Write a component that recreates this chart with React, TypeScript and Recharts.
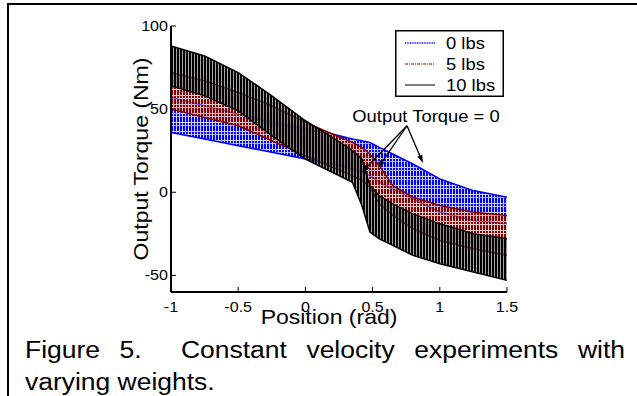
import { ComposedChart, Area, XAxis, YAxis, ReferenceLine, ReferenceDot, Legend, Label } from 'recharts';

const POSITION = [-1, -0.75, -0.5, -0.25, 0, 0.2, 0.35, 0.42, 0.48, 0.55, 0.65, 0.8, 1, 1.25, 1.5];

// 0 lbs (blue) upper / lower edge of the oscillation, Nm
const LBS0_HI = [57, 52, 47, 42, 38, 35, 32, 31, 30, 27, 23, 17, 8, 1, -3];
const LBS0_LO = [36, 32, 28, 24, 20, 17, 14, 12, 10, 6, 2, -4, -12, -17, -19];

// 5 lbs (dark red)
const LBS5_HI = [72, 67, 60, 52, 42, 35, 30, 27, 23, 16, 4, -3, -8, -12, -14];
const LBS5_LO = [50, 45, 40, 31, 22, 15, 10, 7, 3, -7, -14, -22, -29, -34, -38];

// 10 lbs (black)
const LBS10_HI = [88, 82, 72, 58, 43, 33, 25, 20, 4, -2, -7, -13, -19, -25, -28];
const LBS10_LO = [64, 58, 49, 34, 20, 12, 6, -8, -24, -28, -32, -38, -43, -48, -53];

const X_TICKS = [-1, -0.5, 0, 0.5, 1, 1.5];
const Y_TICKS = [-50, 0, 50, 100];
const SERIES = ['0 lbs', '5 lbs', '10 lbs'];

// annotation arrows: common tail, three tips
const ARROW_TAIL = { x: 0.756, y: 40 };
const ARROW_TIPS = [
  { x: 0.42, y: 12 },
  { x: 0.54, y: 14.6 },
  { x: 0.875, y: 17.6 },
];
const NOTE_AT = { x: 0.897, y: 45.9 };

const FONT = '"Liberation Sans", Arial, Helvetica, sans-serif';
const STRETCH = 1.15;

const data = POSITION.map((x, i) => ({
  x,
  lbs0: [LBS0_LO[i], LBS0_HI[i]],
  lbs5: [LBS5_LO[i], LBS5_HI[i]],
  lbs10: [LBS10_LO[i], LBS10_HI[i]],
}));

function BottomTick({ x, y, payload }: any) {
  return (
    <g>
      <line x1={x} y1={y} x2={x} y2={y - 5} stroke="#000" />
      <text transform={`translate(${x},${y + 20}) scale(${STRETCH},1)`} textAnchor="middle" fontSize={14} fontFamily={FONT} fill="#000">
        {String(payload.value)}
      </text>
    </g>
  );
}

function LeftTick({ x, y, payload }: any) {
  return (
    <g>
      <line x1={x} y1={y} x2={x + 5} y2={y} stroke="#000" />
      <text transform={`translate(${x - 3},${y + 5}) scale(${STRETCH},1)`} textAnchor="end" fontSize={14} fontFamily={FONT} fill="#000">
        {String(payload.value)}
      </text>
    </g>
  );
}

function TopTick({ x, y }: any) {
  return <line x1={x} y1={y} x2={x} y2={y + 5} stroke="#000" />;
}

function RightTick({ x, y }: any) {
  return <line x1={x} y1={y} x2={x - 5} y2={y} stroke="#000" />;
}

function Arrow({ x1, y1, x2, y2 }: any) {
  const a = Math.atan2(y2 - y1, x2 - x1);
  const len = 8;
  const w = 2.6;
  const bx = x2 - len * Math.cos(a);
  const by = y2 - len * Math.sin(a);
  const nx = -Math.sin(a);
  const ny = Math.cos(a);
  return (
    <g>
      <line x1={x1} y1={y1} x2={bx} y2={by} stroke="#000" strokeWidth={1.3} />
      <polygon points={`${x2},${y2} ${bx + w * nx},${by + w * ny} ${bx - w * nx},${by - w * ny}`} fill="#000" />
    </g>
  );
}

function Note({ cx, cy }: any) {
  return (
    <text transform={`translate(${cx},${cy + 6}) scale(${STRETCH},1)`} textAnchor="middle" fontSize={16} fontFamily={FONT} fill="#000">
      Output Torque = 0
    </text>
  );
}

function LegendBox() {
  const styles = [
    { stroke: '#4848ff', dash: '1 0.7', w: 2 },
    { stroke: '#800000', dash: '3 1 1 1', w: 1.2 },
    { stroke: '#000', dash: undefined, w: 1 },
  ];
  return (
    <svg width={109} height={67} style={{ display: 'block' }}>
      <rect x={0.75} y={0.75} width={107.5} height={65.5} fill="#fff" stroke="#000" strokeWidth={1.5} />
      {SERIES.map((s, i) => (
        <g key={s}>
          <line x1={10} x2={40} y1={13 + i * 21} y2={13 + i * 21} stroke={styles[i].stroke} strokeDasharray={styles[i].dash} strokeWidth={styles[i].w} />
          <text transform={`translate(51,${19 + i * 21}) scale(${STRETCH},1)`} fontSize={16} fontFamily={FONT} fill="#000">
            {s}
          </text>
        </g>
      ))}
    </svg>
  );
}

export default function App() {
  return (
    <div style={{ position: 'absolute', left: 0, top: 0, width: 637, height: 396, background: '#fff', overflow: 'hidden' }}>
      <div style={{ position: 'absolute', left: 7, top: 3, right: -10, bottom: -10, borderTop: '2px solid #000', borderLeft: '2px solid #000' }} />
      <ComposedChart width={637} height={396} data={data} margin={{ top: 26, right: 130, bottom: 74, left: 0 }}>
        <defs>
          <pattern id="hatch0" patternUnits="userSpaceOnUse" width={3} height={9}>
            <rect width={3} height={9} fill="#b0b8ff" fillOpacity={0.6} />
            <rect width={2} height={5} fill="#0000ff" />
            <rect y={6} width={2} height={2.2} fill="#0000ff" />
          </pattern>
          <pattern id="hatch5" patternUnits="userSpaceOnUse" width={3} height={9}>
            <rect width={3} height={9} fill="#d8a8a8" fillOpacity={0.6} />
            <rect width={2} height={5} fill="#800000" />
            <rect y={6} width={2} height={2} fill="#800000" />
          </pattern>
          <pattern id="hatch10" patternUnits="userSpaceOnUse" width={3} height={9}>
            <rect width={3} height={9} fill="#707070" fillOpacity={0.5} />
            <rect width={2.1} height={9} fill="#000" />
          </pattern>
        </defs>
        <XAxis
          dataKey="x"
          type="number"
          domain={[-1, 1.5]}
          ticks={X_TICKS}
          interval={0}
          height={30}
          tickSize={0}
          tickMargin={0}
          tick={<BottomTick />}
          axisLine={{ stroke: '#000', strokeWidth: 2 }}
        >
          <Label
            content={() => (
              <text transform={`translate(${329},${324}) scale(${STRETCH},1)`} textAnchor="middle" fontSize={20} fontFamily={FONT} fill="#000">
                Position (rad)
              </text>
            )}
          />
        </XAxis>
        <XAxis xAxisId="top" orientation="top" type="number" domain={[-1, 1.5]} ticks={X_TICKS} interval={0} height={0} tickSize={0} tickMargin={0} tick={<TopTick />} axisLine={{ stroke: '#000', strokeWidth: 1.5 }} />
        <YAxis
          type="number"
          domain={[-60, 100]}
          ticks={Y_TICKS}
          interval={0}
          width={171}
          tickSize={0}
          tickMargin={0}
          tick={<LeftTick />}
          axisLine={{ stroke: '#000', strokeWidth: 2 }}
        >
          <Label
            content={() => (
              <text transform={`translate(${148},${159}) rotate(-90) scale(${STRETCH},1)`} textAnchor="middle" fontSize={20} fontFamily={FONT} fill="#000">
                Output Torque (Nm)
              </text>
            )}
          />
        </YAxis>
        <YAxis yAxisId="right" orientation="right" type="number" domain={[-60, 100]} ticks={Y_TICKS} interval={0} width={0} tickSize={0} tickMargin={0} tick={<RightTick />} axisLine={{ stroke: '#000', strokeWidth: 1.5 }} />
        <Area type="linear" dataKey="lbs0" name={SERIES[0]} stroke="#0000ff" strokeWidth={1.5} fill="url(#hatch0)" fillOpacity={1} dot={false} activeDot={false} isAnimationActive={false} />
        <Area type="linear" dataKey="lbs5" name={SERIES[1]} stroke="#800000" strokeWidth={1.5} fill="url(#hatch5)" fillOpacity={1} dot={false} activeDot={false} isAnimationActive={false} />
        <Area type="linear" dataKey="lbs10" name={SERIES[2]} stroke="#000" strokeWidth={1.5} fill="url(#hatch10)" fillOpacity={1} dot={false} activeDot={false} isAnimationActive={false} />
        {ARROW_TIPS.map((tip, i) => (
          <ReferenceLine key={i} segment={[ARROW_TAIL, tip]} shape={(p: any) => <Arrow {...p} />} ifOverflow="visible" />
        ))}
        <ReferenceDot x={NOTE_AT.x} y={NOTE_AT.y} r={0} shape={(p: any) => <Note {...p} />} ifOverflow="visible" />
        <Legend layout="vertical" align="center" verticalAlign="middle" wrapperStyle={{ left: 395, top: 30, width: 109, height: 67 }} content={() => <LegendBox />} />
      </ComposedChart>
      <div
        style={{
          position: 'absolute',
          left: 25,
          top: 334,
          width: 600 / STRETCH,
          transform: `scaleX(${STRETCH})`,
          transformOrigin: '0 0',
          fontFamily: FONT,
          fontSize: 23,
          lineHeight: '32px',
          textAlign: 'justify',
          color: '#000',
        }}
      >
        Figure 5.&nbsp; Constant velocity experiments with varying weights.
      </div>
    </div>
  );
}
